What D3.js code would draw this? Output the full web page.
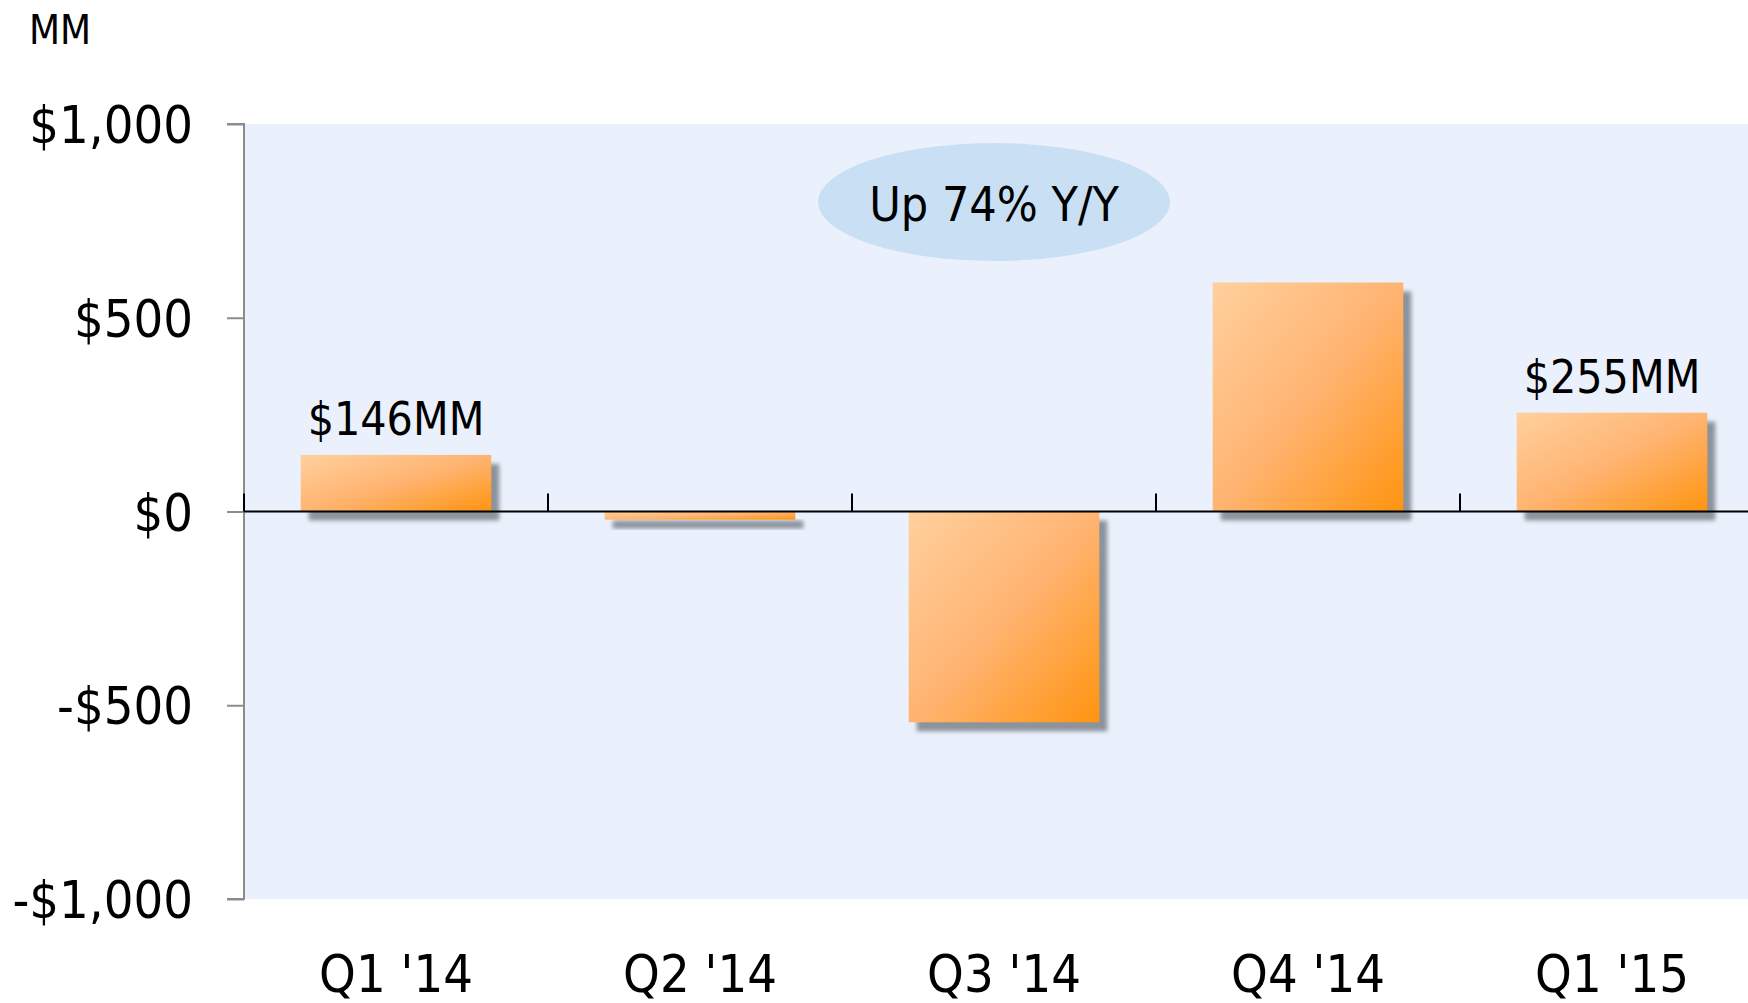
<!DOCTYPE html>
<html>
<head>
<meta charset="utf-8">
<script src="https://cdn.jsdelivr.net/npm/d3@7"></script>
<style>
	body { margin: 0; background: #fff; }
	svg { display: block; }
	text { font-family: "DejaVu Sans Condensed", "DejaVu Sans", sans-serif; font-stretch: condensed; fill: #000; }
</style>
</head>
<body>
<div id="vis"></div>
<script>

var width = 1748,
	height = 1003;

// data
var quarters = ["Q1 '14", "Q2 '14", "Q3 '14", "Q4 '14", "Q1 '15"];
var values = [146, -21, -544, 591, 255];
var valueLabels = ["$146MM", "", "", "", "$255MM"];
var yTicks = [-1000, -500, 0, 500, 1000];
var unitLabel = "MM";
var callout = "Up 74% Y/Y";

var plotLeft = 244,
	plotTop = 124,
	plotBottom = 899,
	step = 304;

var x = d3.scaleBand()
		.domain(quarters)
		.range([plotLeft, plotLeft + step * quarters.length])
		.paddingInner(0.373)
		.paddingOuter(0.1865);

var y = d3.scaleLinear()
		.domain([-1000, 1000])
		.range([plotBottom, plotTop]);

var svg = d3.select('#vis')
		.append('svg')
		.attr('width', width)
		.attr('height', height);

var defs = svg.append('defs');

var grad = defs.append('linearGradient')
		.attr('id', 'barGrad')
		.attr('x1', 0).attr('y1', 0)
		.attr('x2', 1).attr('y2', 1);
grad.append('stop').attr('offset', '0%').attr('stop-color', '#ffd09d');
grad.append('stop').attr('offset', '50%').attr('stop-color', '#ffb472');
grad.append('stop').attr('offset', '100%').attr('stop-color', '#ff940f');

defs.append('filter')
		.attr('id', 'blur')
		.attr('x', '-10%').attr('y', '-10%')
		.attr('width', '120%').attr('height', '120%')
	.append('feGaussianBlur')
		.attr('stdDeviation', 2);

// plot background
svg.append('rect')
	.attr('x', plotLeft)
	.attr('y', plotTop)
	.attr('width', x.range()[1] - plotLeft)
	.attr('height', plotBottom - plotTop)
	.style('fill', '#eaf1fc');

// callout bubble
svg.append('ellipse')
	.attr('cx', 994)
	.attr('cy', 202)
	.attr('rx', 176)
	.attr('ry', 59)
	.style('fill', '#c9e0f4');

svg.append('text')
	.attr('x', 994)
	.attr('y', 221)
	.attr('text-anchor', 'middle')
	.style('font-size', '48px')
	.text(callout);

// shadows
svg.append('g')
	.selectAll('rect')
	.data(values)
	.enter()
	.append('rect')
	.attr('x', function(d, i) { return x(quarters[i]) + 8; })
	.attr('y', function(d) { return Math.min(y(d), y(0)) + 9; })
	.attr('width', x.bandwidth())
	.attr('height', function(d) { return Math.abs(y(d) - y(0)); })
	.attr('filter', 'url(#blur)')
	.style('fill', '#8d939b');

// bars
svg.append('g')
	.selectAll('rect')
	.data(values)
	.enter()
	.append('rect')
	.attr('x', function(d, i) { return x(quarters[i]); })
	.attr('y', function(d) { return Math.min(y(d), y(0)); })
	.attr('width', x.bandwidth())
	.attr('height', function(d) { return Math.abs(y(d) - y(0)); })
	.style('fill', 'url(#barGrad)');

// value labels
svg.append('g')
	.selectAll('text')
	.data(values)
	.enter()
	.append('text')
	.attr('x', function(d, i) { return x(quarters[i]) + x.bandwidth() / 2; })
	.attr('y', function(d) { return y(d) - 20; })
	.attr('text-anchor', 'middle')
	.style('font-size', '46px')
	.text(function(d, i) { return valueLabels[i]; });

// y axis
var yAxis = svg.append('g')
	.attr('transform', 'translate(' + plotLeft + ',0)')
	.call(d3.axisLeft(y)
		.tickValues(yTicks)
		.tickSize(17)
		.tickPadding(34)
		.tickFormat(function(d) {
			return (d < 0 ? '-$' : '$') + d3.format(',')(Math.abs(d));
		}));

yAxis.select('.domain')
	.attr('d', 'M-17,' + plotTop + 'H0V' + plotBottom + 'H-17')
	.style('stroke', '#8c8c8c')
	.style('stroke-width', 2);
yAxis.selectAll('.tick line')
	.style('stroke', '#8c8c8c')
	.style('stroke-width', 2);
yAxis.selectAll('.tick text')
	.attr('dy', '0.36em')
	.style('font-size', '52px')
	.style('font-family', null);

// zero line with category boundary ticks
var boundaries = quarters.map(function(q) { return x(q) - x.step() * x.paddingOuter(); });

svg.append('line')
	.attr('x1', plotLeft)
	.attr('x2', width)
	.attr('y1', y(0))
	.attr('y2', y(0))
	.style('stroke', '#000')
	.style('stroke-width', 2);

svg.append('g')
	.selectAll('line')
	.data(boundaries)
	.enter()
	.append('line')
	.attr('x1', function(d) { return d; })
	.attr('x2', function(d) { return d; })
	.attr('y1', y(0))
	.attr('y2', y(0) - 18)
	.style('stroke', '#000')
	.style('stroke-width', 2);

// category labels
var xAxis = svg.append('g')
	.attr('transform', 'translate(0,' + plotBottom + ')')
	.call(d3.axisBottom(x).tickSize(0).tickPadding(56));

xAxis.select('.domain').remove();
xAxis.selectAll('.tick text')
	.style('font-size', '52px')
	.style('font-family', null);

// unit
svg.append('text')
	.attr('x', 29)
	.attr('y', 44)
	.style('font-size', '40px')
	.text(unitLabel);

</script>
</body>
</html>
